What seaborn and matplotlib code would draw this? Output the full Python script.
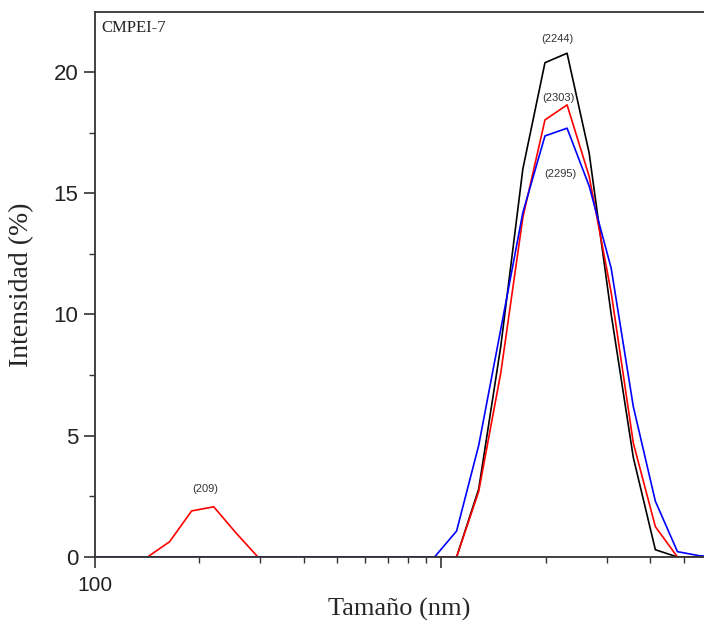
import numpy as np
import pandas as pd
import matplotlib
matplotlib.use("Agg")
import matplotlib.pyplot as plt
import matplotlib.ticker as mticker
import seaborn as sns

# Malvern size bins (nm) and intensity (%) per run
size_nm = [91.28, 105.7, 122.4, 141.8, 164.2, 190.1, 220.2, 255.0, 295.3, 342.0,
           396.1, 458.7, 531.2, 615.1, 712.4, 825.0, 955.4, 1106, 1281, 1484,
           1718, 1990, 2305, 2669, 3091, 3580, 4145, 4801, 5560, 6439]

run_black = [0, 0, 0, 0, 0, 0, 0, 0, 0, 0,
             0, 0, 0, 0, 0, 0, 0, 0, 2.8, 8.7,
             16.0, 20.38, 20.77, 16.66, 10.0, 4.1, 0.3, 0, 0, 0]
run_red = [0, 0, 0, 0, 0.63, 1.9, 2.07, 1.0, 0, 0,
           0, 0, 0, 0, 0, 0, 0, 0, 2.7, 7.6,
           14.0, 18.02, 18.64, 15.7, 10.9, 4.7, 1.25, 0, 0, 0]
run_blue = [0, 0, 0, 0, 0, 0, 0, 0, 0, 0,
            0, 0, 0, 0, 0, 0, 0, 1.07, 4.6, 9.4,
            14.2, 17.36, 17.68, 15.3, 11.9, 6.2, 2.3, 0.22, 0.05, 0]

run_names = ["run 1", "run 2", "run 3"]
run_colors = ["#000000", "#ff0000", "#0000ff"]

peak_labels = ["(2244)", "(2303)", "(2295)", "(209)"]
peak_label_x = [2160, 2174, 2203, 207.5]
peak_label_y = [21.36, 18.94, 15.8, 2.8]

x_major = [100, 1000]
x_major_labels = ["100", ""]
y_major = [0, 5, 10, 15, 20]

df = pd.DataFrame({
    "size": size_nm * 3,
    "intensity": run_black + run_red + run_blue,
    "run": np.repeat(run_names, len(size_nm)),
})

sns.set_style("ticks")
plt.rcParams["font.family"] = ["Liberation Sans", "DejaVu Sans"]

fig = plt.figure(figsize=(7.04, 6.26), dpi=100)
ax = fig.add_axes([95 / 704, 1 - 557 / 626, 1 - 95 / 704, (557 - 12) / 626])

sns.lineplot(data=df, x="size", y="intensity", hue="run", palette=run_colors,
             estimator=None, sort=False, linewidth=1.2, legend=False, ax=ax)

ax.set_xscale("log")
ax.set_xlim(100, 5727)
ax.set_ylim(0, 22.47)

ax.xaxis.set_major_locator(mticker.FixedLocator(x_major))
ax.xaxis.set_major_formatter(mticker.FixedFormatter(x_major_labels))
ax.xaxis.set_minor_locator(mticker.LogLocator(base=10, subs=np.arange(2, 10)))
ax.xaxis.set_minor_formatter(mticker.NullFormatter())
ax.yaxis.set_major_locator(mticker.FixedLocator(y_major))
ax.yaxis.set_minor_locator(mticker.MultipleLocator(2.5))

ax.tick_params(axis="both", which="major", direction="out", length=8, width=1.2,
               color="#333333")
ax.tick_params(axis="both", which="minor", direction="out", length=4.5, width=1.0,
               color="#333333")
ax.tick_params(axis="y", which="major", labelsize=16, pad=4, labelcolor="#222222")
ax.tick_params(axis="x", which="major", labelsize=15, pad=6, labelcolor="#222222")

for side in ["left", "bottom", "top"]:
    ax.spines[side].set_color("#333333")
    ax.spines[side].set_linewidth(1.3)
ax.spines["right"].set_visible(False)

ax.set_xlabel("Tamaño (nm)", family="Liberation Serif", fontsize=19, labelpad=2)
ax.set_ylabel("Intensidad (%)", family="Liberation Serif", fontsize=20, labelpad=14)

ax.text(0.01, 0.97, "CMPEI-7", transform=ax.transAxes, family="Liberation Serif",
        fontsize=12, ha="left", va="center", color="#222222")

for lab, lx, ly in zip(peak_labels, peak_label_x, peak_label_y):
    ax.text(lx, ly, lab, fontsize=8, ha="center", va="center", color="#333333")

fig.savefig("out.png", dpi=100)
